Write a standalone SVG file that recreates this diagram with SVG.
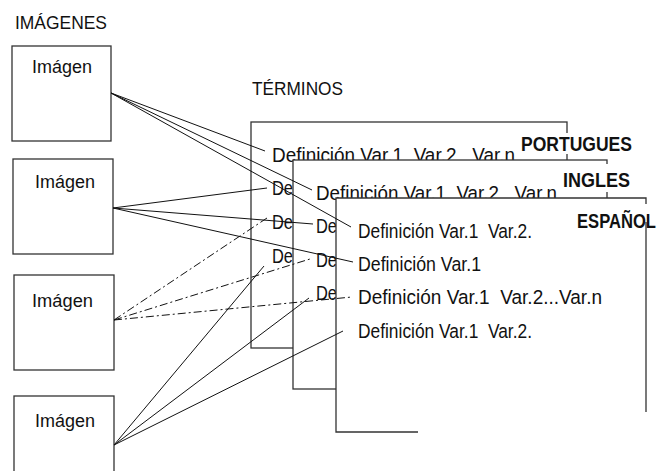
<svg xmlns="http://www.w3.org/2000/svg" width="661" height="471" viewBox="0 0 661 471">
<style>
.t{font-family:"Liberation Sans",Arial,sans-serif;fill:#111;}
.title{font-size:17.5px;}
.img{font-size:17.5px;}
.term{font-size:20.5px;}
.lab{font-size:21px;font-weight:bold;}
.box{fill:#fff;stroke:#333;stroke-width:1.3;}
.edge{fill:none;stroke:#333;stroke-width:1.3;}
.bg{fill:#fff;stroke:none;}
.c{fill:none;stroke:#111;stroke-width:1;}
.dd{stroke-dasharray:8 3 2 3;}
</style>
<rect width="661" height="471" fill="#fff"/>
<text class="t title" x="15" y="29" textLength="92" lengthAdjust="spacingAndGlyphs">IMÁGENES</text>
<text class="t title" x="252" y="95" textLength="91" lengthAdjust="spacingAndGlyphs">TÉRMINOS</text>

<g id="img1"><rect class="box" x="12" y="46" width="99" height="95"/><text class="t img" x="32" y="73" textLength="60" lengthAdjust="spacingAndGlyphs">Imágen</text></g>
<g id="img2"><rect class="box" x="13" y="159" width="100" height="95"/><text class="t img" x="35" y="188" textLength="60" lengthAdjust="spacingAndGlyphs">Imágen</text></g>
<g id="img3"><rect class="box" x="14" y="275" width="100" height="95"/><text class="t img" x="32" y="307" textLength="61" lengthAdjust="spacingAndGlyphs">Imágen</text></g>
<g id="img4"><rect class="box" x="14" y="396" width="100" height="100"/><text class="t img" x="35" y="427" textLength="60" lengthAdjust="spacingAndGlyphs">Imágen</text></g>

<g id="portugues">
<rect class="box" x="251" y="122" width="316" height="226"/>
<text class="t term" x="272" y="162" textLength="243" lengthAdjust="spacingAndGlyphs" xml:space="preserve">Definición Var.1  Var.2   Var.n</text>
<text class="t term" x="272" y="195" textLength="21" lengthAdjust="spacingAndGlyphs">De</text>
<text class="t term" x="272" y="229" textLength="21" lengthAdjust="spacingAndGlyphs">De</text>
<text class="t term" x="272" y="263" textLength="21" lengthAdjust="spacingAndGlyphs">De</text>
<rect class="bg" x="519" y="133" width="116" height="21"/>
<text class="t lab" x="521" y="151" textLength="111" lengthAdjust="spacingAndGlyphs">PORTUGUES</text>
</g>

<g id="ingles">
<rect class="box" x="293" y="160" width="314" height="229"/>
<text class="t term" x="316" y="200" textLength="241" lengthAdjust="spacingAndGlyphs" xml:space="preserve">Definición Var.1  Var.2   Var.n</text>
<text class="t term" x="316" y="233" textLength="21" lengthAdjust="spacingAndGlyphs">De</text>
<text class="t term" x="316" y="267" textLength="21" lengthAdjust="spacingAndGlyphs">De</text>
<text class="t term" x="316" y="300" textLength="21" lengthAdjust="spacingAndGlyphs">De</text>
<rect class="bg" x="561" y="164" width="72" height="28"/>
<text class="t lab" x="563" y="187" textLength="67" lengthAdjust="spacingAndGlyphs">INGLES</text>
</g>

<g id="espanol">
<rect class="bg" x="336" y="198" width="310" height="234"/>
<path class="edge" d="M418,432 H336 V198 H646 V412"/>
<text class="t term" x="358" y="238" textLength="174" lengthAdjust="spacingAndGlyphs" xml:space="preserve">Definición Var.1  Var.2.</text>
<text class="t term" x="358" y="271" textLength="123" lengthAdjust="spacingAndGlyphs">Definición Var.1</text>
<text class="t term" x="358" y="304" textLength="244" lengthAdjust="spacingAndGlyphs" xml:space="preserve">Definición Var.1  Var.2...Var.n</text>
<text class="t term" x="358" y="338" textLength="174" lengthAdjust="spacingAndGlyphs" xml:space="preserve">Definición Var.1  Var.2.</text>
<rect class="bg" x="575" y="204" width="86" height="18"/>
<text class="t lab" x="577" y="228" textLength="79" lengthAdjust="spacingAndGlyphs">ESPAÑOL</text>
</g>

<g id="connectors">
<line class="c" x1="111" y1="93" x2="265" y2="151"/>
<line class="c" x1="111" y1="93" x2="312" y2="190"/>
<line class="c" x1="111" y1="93" x2="351" y2="227"/>
<line class="c" x1="113" y1="208" x2="267" y2="188"/>
<line class="c" x1="113" y1="208" x2="313" y2="224"/>
<line class="c" x1="113" y1="208" x2="353" y2="262"/>
<line class="c dd" x1="114" y1="320" x2="267" y2="218"/>
<line class="c dd" x1="114" y1="320" x2="310" y2="259"/>
<line class="c dd" x1="114" y1="320" x2="352" y2="297"/>
<line class="c" x1="114" y1="445" x2="264" y2="266"/>
<line class="c" x1="114" y1="445" x2="309" y2="298"/>
<line class="c" x1="114" y1="445" x2="343" y2="331"/>
</g>
</svg>
